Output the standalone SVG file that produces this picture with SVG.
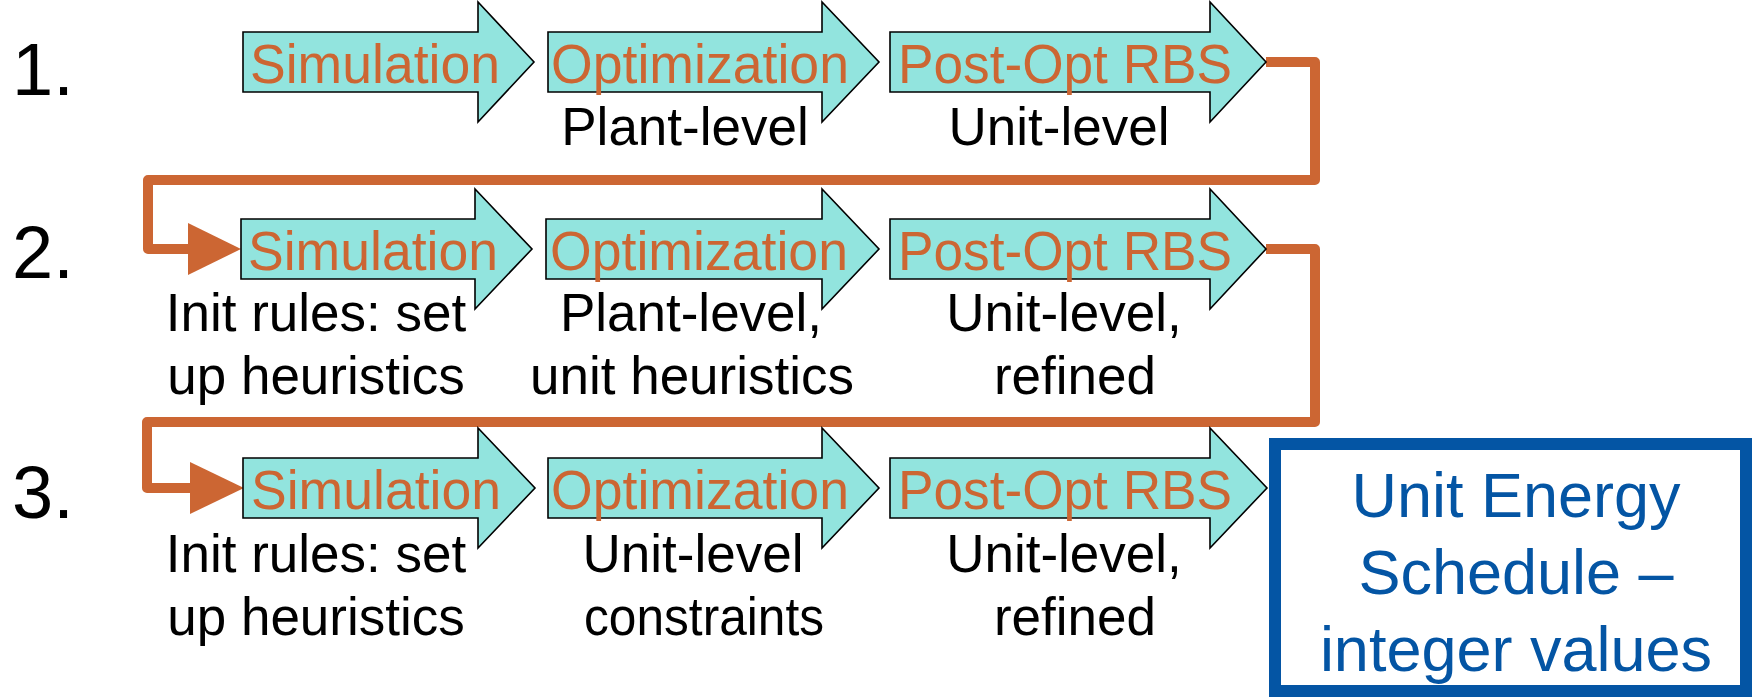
<svg xmlns="http://www.w3.org/2000/svg" width="1755" height="698" viewBox="0 0 1755 698">
<style>
.arr{fill:#92E4DE;stroke:#000;stroke-width:1.6;stroke-linejoin:miter}
.ot{font-family:"Liberation Sans",Arial,sans-serif;font-size:56px;fill:#CC6633;text-anchor:middle}
.bt{font-family:"Liberation Sans",Arial,sans-serif;font-size:53px;fill:#000;text-anchor:middle}
.num{font-family:"Liberation Sans",Arial,sans-serif;font-size:74px;fill:#000}
.conn{fill:none;stroke:#CC6633;stroke-width:10;stroke-linejoin:round}
.head{fill:#CC6633}
.blue{font-family:"Liberation Sans",Arial,sans-serif;font-size:63px;fill:#0455A4;text-anchor:middle}
</style>
<rect width="1755" height="698" fill="#fff"/>
<g id="labels">
<text class="num" x="12" y="95">1.</text>
<text class="num" x="12" y="278">2.</text>
<text class="num" x="12" y="518">3.</text>
</g>
<g id="connectors">
<path class="conn" d="M1266,62 H1315 V180 H148 V249 H192"/>
<polygon class="head" points="188,223 241,249 188,275"/>
<path class="conn" d="M1266,249 H1315 V422 H147 V488 H194"/>
<polygon class="head" points="190,462 244,488 190,514"/>
</g>
<g id="r1-sim"><path class="arr" d="M243,32 H478 V2 L534,62 L478,122 V92 H243 Z"/><text class="ot" x="375" y="83" textLength="250" lengthAdjust="spacingAndGlyphs">Simulation</text></g>
<g id="r1-opt"><path class="arr" d="M548,32 H822 V2 L879,62 L822,122 V92 H548 Z"/><text class="ot" x="700" y="83" textLength="298" lengthAdjust="spacingAndGlyphs">Optimization</text><text class="bt" x="685" y="145">Plant-level</text></g>
<g id="r1-post"><path class="arr" d="M890,32 H1210 V2 L1266,62 L1210,122 V92 H890 Z"/><text class="ot" x="1065" y="83" textLength="334" lengthAdjust="spacingAndGlyphs">Post-Opt RBS</text><text class="bt" x="1059" y="145">Unit-level</text></g>
<g id="r2-sim"><path class="arr" d="M241,219 H475 V189 L532,249 L475,309 V279 H241 Z"/><text class="ot" x="373" y="270" textLength="250" lengthAdjust="spacingAndGlyphs">Simulation</text><text class="bt" x="316" y="331">Init rules: set</text><text class="bt" x="316" y="394">up heuristics</text></g>
<g id="r2-opt"><path class="arr" d="M546,219 H822 V189 L879,249 L822,309 V279 H546 Z"/><text class="ot" x="699" y="270" textLength="298" lengthAdjust="spacingAndGlyphs">Optimization</text><text class="bt" x="691" y="331">Plant-level,</text><text class="bt" x="692" y="394">unit heuristics</text></g>
<g id="r2-post"><path class="arr" d="M890,219 H1210 V189 L1266,249 L1210,309 V279 H890 Z"/><text class="ot" x="1065" y="270" textLength="334" lengthAdjust="spacingAndGlyphs">Post-Opt RBS</text><text class="bt" x="1064" y="331">Unit-level,</text><text class="bt" x="1075" y="394">refined</text></g>
<g id="r3-sim"><path class="arr" d="M243,458 H478 V428 L535,488 L478,548 V518 H243 Z"/><text class="ot" x="376" y="509" textLength="250" lengthAdjust="spacingAndGlyphs">Simulation</text><text class="bt" x="316" y="572">Init rules: set</text><text class="bt" x="316" y="635">up heuristics</text></g>
<g id="r3-opt"><path class="arr" d="M548,458 H822 V428 L879,488 L822,548 V518 H548 Z"/><text class="ot" x="700" y="509" textLength="298" lengthAdjust="spacingAndGlyphs">Optimization</text><text class="bt" x="693" y="572">Unit-level</text><text class="bt" x="704" y="635" textLength="240" lengthAdjust="spacingAndGlyphs">constraints</text></g>
<g id="r3-post"><path class="arr" d="M890,458 H1210 V428 L1267,488 L1210,548 V518 H890 Z"/><text class="ot" x="1065" y="509" textLength="334" lengthAdjust="spacingAndGlyphs">Post-Opt RBS</text><text class="bt" x="1064" y="572">Unit-level,</text><text class="bt" x="1075" y="635">refined</text></g>
<g id="result"><rect x="1275" y="444" width="471" height="247" fill="#fff" stroke="#0455A4" stroke-width="12"/><text class="blue" x="1516" y="517">Unit Energy</text><text class="blue" x="1516" y="594">Schedule –</text><text class="blue" x="1516" y="671">integer values</text></g>
</svg>
